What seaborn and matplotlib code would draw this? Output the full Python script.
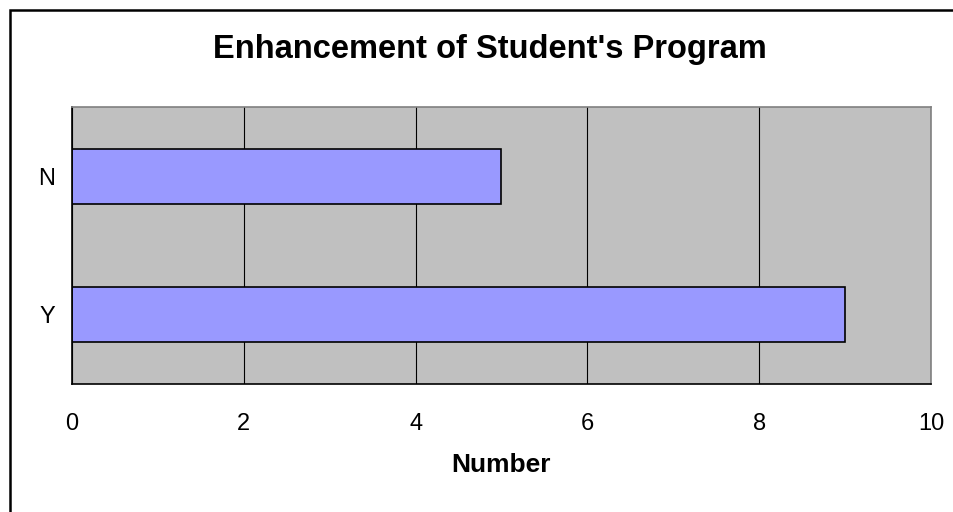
import matplotlib
matplotlib.use("Agg")
import matplotlib.pyplot as plt
import matplotlib.patches as mpatches
import seaborn as sns
import pandas as pd

# data
CATEGORIES = ["N", "Y"]
COUNTS = [5, 9]
X_TICKS = [0, 2, 4, 6, 8, 10]

BAR_COLOR = "#9999FF"
BACK_COLOR = "#C0C0C0"

sns.set_style("white")
plt.rcParams['font.family'] = ['Liberation Sans', 'DejaVu Sans']
plt.rcParams['text.color'] = "black"
plt.rcParams['xtick.color'] = "black"
plt.rcParams['ytick.color'] = "black"
plt.rcParams['axes.labelcolor'] = "black"

df = pd.DataFrame({"Answer": CATEGORIES, "Number": COUNTS})

fig = plt.figure(figsize=(9.54, 5.12), dpi=100)
ax = fig.add_axes([72 / 954, 1 - 384 / 512, (931 - 72) / 954, (384 - 107) / 512])

sns.barplot(data=df, x="Number", y="Answer", orient="h", order=CATEGORIES,
            color=BAR_COLOR, saturation=1, width=0.4,
            edgecolor="black", linewidth=1.2, ax=ax)

ax.set_facecolor(BACK_COLOR)
ax.set_xlim(0, 10)
ax.set_xticks(X_TICKS)
ax.set_axisbelow(True)
ax.grid(axis="x", color="black", linewidth=0.8)
ax.grid(axis="y", visible=False)

ax.spines["left"].set_color("black")
ax.spines["bottom"].set_color("black")
ax.spines["top"].set_color("#808080")
ax.spines["right"].set_color("#808080")
for s in ax.spines.values():
    s.set_linewidth(1.2)
    s.set_visible(True)

ax.tick_params(axis="x", length=0, pad=21, labelsize=17, labelcolor="black")
ax.tick_params(axis="y", length=0, pad=12, labelsize=17, labelcolor="black")
ax.set_ylabel("")
ax.set_xlabel("Number", fontsize=19, fontweight="bold", labelpad=13, color="black")
ax.set_title("Enhancement of Student's Program", fontsize=23.5, fontweight="bold",
             pad=35, x=0.487, color="black")

# chart border (right and bottom edges run off the image)
border = mpatches.Rectangle((10.5 / 954, -0.2), 1.5, 1.2 - 9.5 / 512, transform=fig.transFigure,
                            fill=False, edgecolor="black", linewidth=1.8, clip_on=False)
fig.patches.append(border)

fig.savefig("out.png", dpi=100)
